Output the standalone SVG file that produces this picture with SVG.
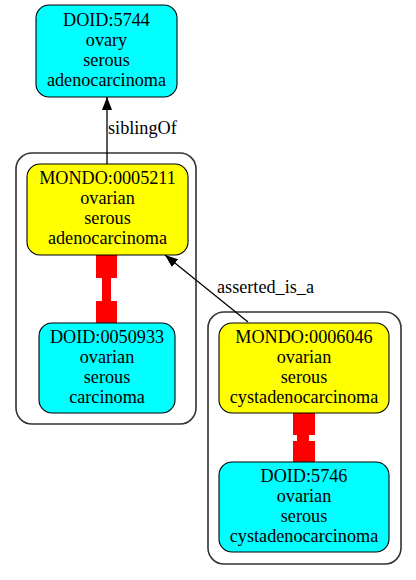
<svg xmlns="http://www.w3.org/2000/svg" width="416" height="580" viewBox="0 0 416 580">
<style>
.cl{fill:#fff;stroke:#333;stroke-width:1.6}
.nd{stroke:#000;stroke-width:1.1}
.cy{fill:#00ffff}
.ye{fill:#ffff00}
text{font-size:18.2px;fill:#000;text-anchor:middle}
.lb{text-anchor:start}
.e{stroke:#000;stroke-width:1.3;fill:none}
.red{fill:#ff0000;stroke:none}
</style>
<defs>
<marker id="ah" markerWidth="14" markerHeight="10" refX="13" refY="5" orient="auto" markerUnits="userSpaceOnUse">
<path d="M0,0 L13,5 L0,10 Z" fill="#000"/>
</marker>
</defs>
<rect width="416" height="580" fill="#fff"/>
<g font-family="Liberation Serif, Times New Roman, DejaVu Serif, serif">
<g id="cluster1"><rect class="cl" x="16" y="153" width="180" height="271" rx="16"/></g>
<g id="cluster2"><rect class="cl" x="208" y="312" width="193" height="252" rx="16"/></g>
<g id="connectors">
<path class="e" d="M107,164 L107,97" marker-end="url(#ah)"/>
<text class="lb" x="108" y="134">siblingOf</text>
<path class="e" d="M248,322 L165,255" marker-end="url(#ah)"/>
<text class="lb" x="217" y="293">asserted_is_a</text>
<polygon class="red" points="96,255 117,255 117,278 111,278 111,301 117,301 117,323 96,323 96,301 102,301 102,278 96,278"/>
<polygon class="red" points="293,413 315,413 315,435 309,435 309,441 315,441 315,462 293,462 293,441 297,441 297,435 293,435"/>
</g>
<g id="DOID_5744">
<rect class="nd cy" x="36" y="5" width="141" height="92" rx="13"/>
<text x="106.5" y="25.7">DOID:5744</text>
<text x="106.5" y="45.7">ovary</text>
<text x="106.5" y="65.7">serous</text>
<text x="106.5" y="85.7">adenocarcinoma</text>
</g>
<g id="MONDO_0005211">
<rect class="nd ye" x="27" y="164" width="161" height="91" rx="13"/>
<text x="107.5" y="184">MONDO:0005211</text>
<text x="107.5" y="204">ovarian</text>
<text x="107.5" y="224">serous</text>
<text x="107.5" y="244">adenocarcinoma</text>
</g>
<g id="DOID_0050933">
<rect class="nd cy" x="39" y="323" width="136" height="90" rx="13"/>
<text x="107" y="343">DOID:0050933</text>
<text x="107" y="363">ovarian</text>
<text x="107" y="383">serous</text>
<text x="107" y="403">carcinoma</text>
</g>
<g id="MONDO_0006046">
<rect class="nd ye" x="219" y="323" width="170" height="90" rx="13"/>
<text x="304" y="343">MONDO:0006046</text>
<text x="304" y="363">ovarian</text>
<text x="304" y="383">serous</text>
<text x="304" y="403">cystadenocarcinoma</text>
</g>
<g id="DOID_5746">
<rect class="nd cy" x="219" y="462" width="170" height="90" rx="13"/>
<text x="304" y="482">DOID:5746</text>
<text x="304" y="502">ovarian</text>
<text x="304" y="522">serous</text>
<text x="304" y="542">cystadenocarcinoma</text>
</g>
</g>
</svg>
